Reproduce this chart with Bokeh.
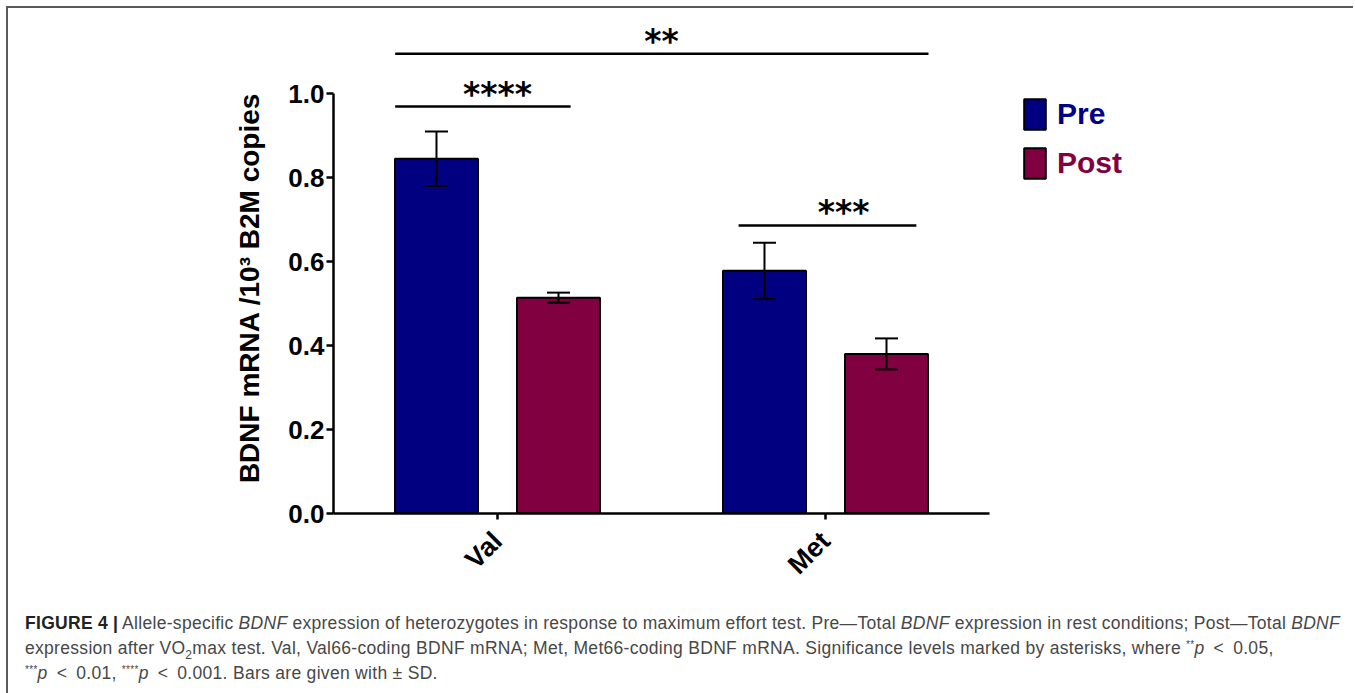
import math
from bokeh.plotting import figure
from bokeh.models import (ColumnDataSource, Range1d, Whisker, TeeHead,
                          Legend, LegendItem, FixedTicker, Div)
from bokeh.transform import dodge
from bokeh.layouts import column
from bokeh.embed import file_html
from bokeh.resources import INLINE
from bokeh.core.properties import value

# ---------------- data ----------------
alleles = ["Val", "Met"]
series_names = ["Pre", "Post"]
pre_mean = [0.845, 0.578]
pre_sd = [0.065, 0.067]
post_mean = [0.514, 0.380]
post_sd = [0.012, 0.037]
y_ticks = [0.0, 0.2, 0.4, 0.6, 0.8, 1.0]
y_tick_labels = ["0.0", "0.2", "0.4", "0.6", "0.8", "1.0"]
y_label = "BDNF mRNA /10\u00b3 B2M copies"

# significance brackets: label, level, (start allele, offset), (end allele, offset), label position
sig_labels = ["**", "****", "***"]
sig_levels = [1.095, 0.969, 0.686]
sig_start = [("Val", -0.312), ("Val", -0.312), ("Met", -0.265)]
sig_end = [("Met", 0.314), ("Val", 0.223), ("Met", 0.277)]
sig_text_at = [("Val", 0.5), ("Val", 0.0), ("Met", 0.055)]

# ---------------- style ----------------
PRE_COLOR = "#000080"
POST_COLOR = "#800040"
BAR_W = 0.253
OFFSET = 0.186
FONT = "Liberation Sans"

group_pos = [i + 0.5 for i in range(len(alleles))]

p = figure(x_range=Range1d(0, 3.0915), y_range=Range1d(0, 1.186),
           frame_width=1014, frame_height=498,
           min_border_left=325, min_border_right=0,
           min_border_top=7, min_border_bottom=80,
           output_backend="svg", toolbar_location=None,
           background_fill_color="white", border_fill_color="white")
p.outline_line_color = None
p.xgrid.visible = False
p.ygrid.visible = False

def make_src(mean, sd):
    return ColumnDataSource(dict(x=group_pos, top=mean,
                                 upper=[m + s for m, s in zip(mean, sd)],
                                 lower=[m - s for m, s in zip(mean, sd)]))

pre_src = make_src(pre_mean, pre_sd)
post_src = make_src(post_mean, post_sd)

r_pre = p.vbar(x=dodge("x", -OFFSET), top="top", width=BAR_W,
               source=pre_src, fill_color=PRE_COLOR, line_color="black", line_width=2)
r_post = p.vbar(x=dodge("x", OFFSET), top="top", width=BAR_W,
                source=post_src, fill_color=POST_COLOR, line_color="black", line_width=2)

for src, off in ((pre_src, -OFFSET), (post_src, OFFSET)):
    w = Whisker(base=dodge("x", off), upper="upper", lower="lower",
                source=src, line_color="black", line_width=2, level="annotation",
                upper_head=TeeHead(size=23, line_width=2, line_color="black"),
                lower_head=TeeHead(size=23, line_width=2, line_color="black"))
    p.add_layout(w)

# significance bars
def pos(a):
    g, off = a
    return group_pos[alleles.index(g)] + off

sig_src = ColumnDataSource(dict(
    x0=[pos(a) for a in sig_start], x1=[pos(a) for a in sig_end],
    y=sig_levels, label=sig_labels, xc=[pos(a) for a in sig_text_at]))
p.segment(x0="x0", x1="x1", y0="y", y1="y", source=sig_src,
          line_color="black", line_width=2.5)
p.text(x="xc", y="y", text="label", source=sig_src, y_offset=7,
       text_align="center", text_baseline="bottom",
       text_font=value("DejaVu Sans"), text_font_style="bold",
       text_font_size="33px", text_color="black")

# axes
xa = p.xaxis[0]
xa.bounds = (0, 2)
xa.ticker = FixedTicker(ticks=group_pos)
xa.major_label_overrides = {g: a for g, a in zip(group_pos, alleles)}
xa.axis_line_width = 2.5
xa.axis_line_color = "black"
xa.major_tick_out = 6
xa.major_tick_in = 0
xa.major_tick_line_width = 2.5
xa.minor_tick_line_color = None
xa.major_label_orientation = math.pi / 4
xa.major_label_text_font = FONT
xa.major_label_text_font_style = "bold"
xa.major_label_text_font_size = "27px"
xa.major_label_text_color = "black"
xa.major_label_standoff = 17

ya = p.yaxis[0]
ya.bounds = (0, 1)
ya.ticker = FixedTicker(ticks=y_ticks)
ya.major_label_overrides = {t: l for t, l in zip(y_ticks, y_tick_labels)}
ya.axis_line_width = 2.5
ya.axis_line_color = "black"
ya.major_tick_out = 7
ya.major_tick_in = 0
ya.major_tick_line_width = 2.5
ya.minor_tick_line_color = None
ya.major_label_text_font = FONT
ya.major_label_text_font_style = "bold"
ya.major_label_text_font_size = "26px"
ya.major_label_text_color = "black"
ya.major_label_standoff = 2
# trailing no-break spaces shift the centred title down to sit like the reference
ya.axis_label = y_label + "\u00a0" * 6
ya.axis_label_text_font = FONT
ya.axis_label_text_font_style = "bold"
ya.axis_label_text_font_size = "28px"
ya.axis_label_text_color = "black"
ya.axis_label_standoff = 20

# legends (separate so label colours differ)
for r, name, col, vy in ((r_pre, series_names[0], PRE_COLOR, 380),
                         (r_post, series_names[1], POST_COLOR, 331)):
    lg = Legend(items=[LegendItem(label=name, renderers=[r])], location=(688, vy),
                glyph_width=27, glyph_height=38, label_height=38,
                label_standoff=9, padding=0, margin=0,
                border_line_color=None, background_fill_alpha=0,
                label_text_font=FONT, label_text_font_style="bold",
                label_text_font_size="30px", label_text_color=col)
    p.add_layout(lg, "center")

cap_font = "'Liberation Sans', Arial, sans-serif"
sup = "<sup style='font-size:10px;vertical-align:6px;line-height:0'>"
lt = "&ensp;&lt;&ensp;"
caption_html = (
    f"<div style=\"width:1315px;font-family:{cap_font};font-size:17.5px;letter-spacing:0.3px;color:#474747;line-height:25px;\">"
    "<div style='width:1315px;text-align:justify;text-align-last:justify;word-spacing:-3px'>"
    "<b style='color:#222'>FIGURE 4 |</b> Allele-specific <i>BDNF</i> expression of heterozygotes in response to "
    "maximum effort test. Pre\u2014Total <i>BDNF</i> expression in rest conditions; Post\u2014Total <i>BDNF</i></div>"
    "<div style='white-space:nowrap'>expression after VO<sub style='font-size:12px;line-height:0'>2</sub>max test. Val, Val66-coding BDNF mRNA; "
    f"Met, Met66-coding BDNF mRNA. Significance levels marked by asterisks, where {sup}**</sup><i>p</i>{lt}0.05,</div>"
    f"<div style='white-space:nowrap'>{sup}***</sup><i>p</i>{lt}0.01, {sup}****</sup><i>p</i>{lt}0.001. "
    "Bars are given with \u00b1 SD.</div></div>"
)
caption = Div(text=caption_html, width=1335, height=90,
              styles={"padding-left": "12px", "padding-top": "13px"})

layout = column(p, caption, margin=(6, 0, 0, 6),
                styles={"border-top": "2px solid #5a5a5a", "border-left": "2px solid #5a5a5a"})

open("out.html", "w").write(file_html(layout, INLINE))
